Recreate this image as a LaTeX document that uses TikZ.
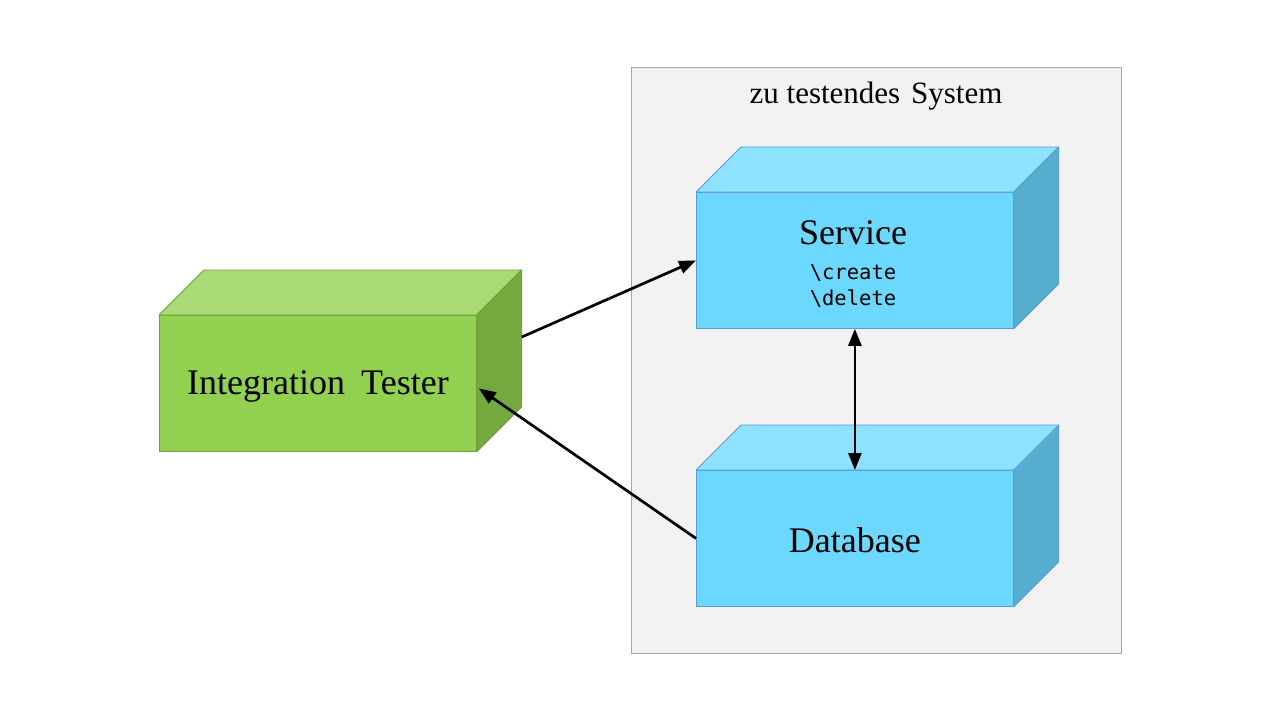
\documentclass[tikz,border=0pt]{standalone}
\usepackage{fontspec}
\setmainfont{Liberation Serif}
\newfontfamily\monof{DejaVu Sans Mono}
\usetikzlibrary{calc,arrows.meta}
\definecolor{gfront}{HTML}{92D050}
\definecolor{gtop}{HTML}{A9DA74}
\definecolor{gside}{HTML}{76A840}
\definecolor{gborder}{HTML}{6FA03D}
\definecolor{bfront}{HTML}{6DD8FE}
\definecolor{btop}{HTML}{8CE2FF}
\definecolor{bside}{HTML}{56AECE}
\definecolor{bborder}{HTML}{5B9BD5}
\definecolor{sysfill}{HTML}{F2F2F2}
\definecolor{sysborder}{HTML}{A6A6A6}
\newcommand\cubefaces[4]{%
  \filldraw[fill=#2,draw=#4,line width=0.8pt,line join=round] (#1.north west) -- ++(45,-45) -- ($(#1.north east)+(45,-45)$) -- (#1.north east) -- cycle;
  \filldraw[fill=#3,draw=#4,line width=0.8pt,line join=round] (#1.north east) -- ($(#1.north east)+(45,-45)$) -- ($(#1.south east)+(45,-45)$) -- (#1.south east) -- cycle;
}
\tikzset{
  front/.style={draw, line width=0.8pt, minimum width=317pt, minimum height=136pt, inner sep=0pt, anchor=north west},
  lbl/.style={inner sep=0pt, font=\fontsize{36}{40}\selectfont},
  code/.style={inner sep=0pt, font=\monof\fontsize{20.5}{24}\selectfont},
  arr/.style={line width=2.7pt, -{Triangle[length=17pt,width=13pt]}},
  darr/.style={line width=2.7pt, {Triangle[length=17pt,width=13pt]}-{Triangle[length=17pt,width=13pt]}}
}
\begin{document}
\begin{tikzpicture}[x=1pt,y=-1pt]
\useasboundingbox[fill=white] (0,0) rectangle (1280,720);
% system frame
\node[draw=sysborder, fill=sysfill, line width=0.8pt, minimum width=490pt, minimum height=586pt, inner sep=0pt, anchor=north west] (sys) at (631,67) {};
\node[inner sep=0pt, font=\fontsize{31}{34}\selectfont] (systitle) at (876,96) {zu testendes\hspace{0.35em}System};
% integration tester
\node[front, fill=gfront, draw=gborder] (it) at (159,315) {};
\cubefaces{it}{gtop}{gside}{gborder}
\node[lbl] (itlabel) at ($(it.center)+(0,3)$) {Integration\hspace{0.45em}Tester};
% service
\node[front, fill=bfront, draw=bborder] (srv) at (696,192) {};
\cubefaces{srv}{btop}{bside}{bborder}
\node[lbl] (srvlabel) at (853,233) {Service};
\node[code] (create) at (853,273) {\string\create};
\node[code] (delete) at (853,299) {\string\delete};
% database
\node[front, fill=bfront, draw=bborder] (db) at (696,470) {};
\cubefaces{db}{btop}{bside}{bborder}
\node[lbl] (dblabel) at ($(db.center)+(0,2)$) {Database};
% connectors
\coordinate (itout) at ($(it.north east)+(45,22)$);
\coordinate (itin) at ($(it.east)+(2,5)$);
\draw[arr] (itout) -- (srv.west);
\draw[arr] (db.west) -- (itin);
\draw[darr] (srv.south) -- (db.north);
\end{tikzpicture}
\end{document}
